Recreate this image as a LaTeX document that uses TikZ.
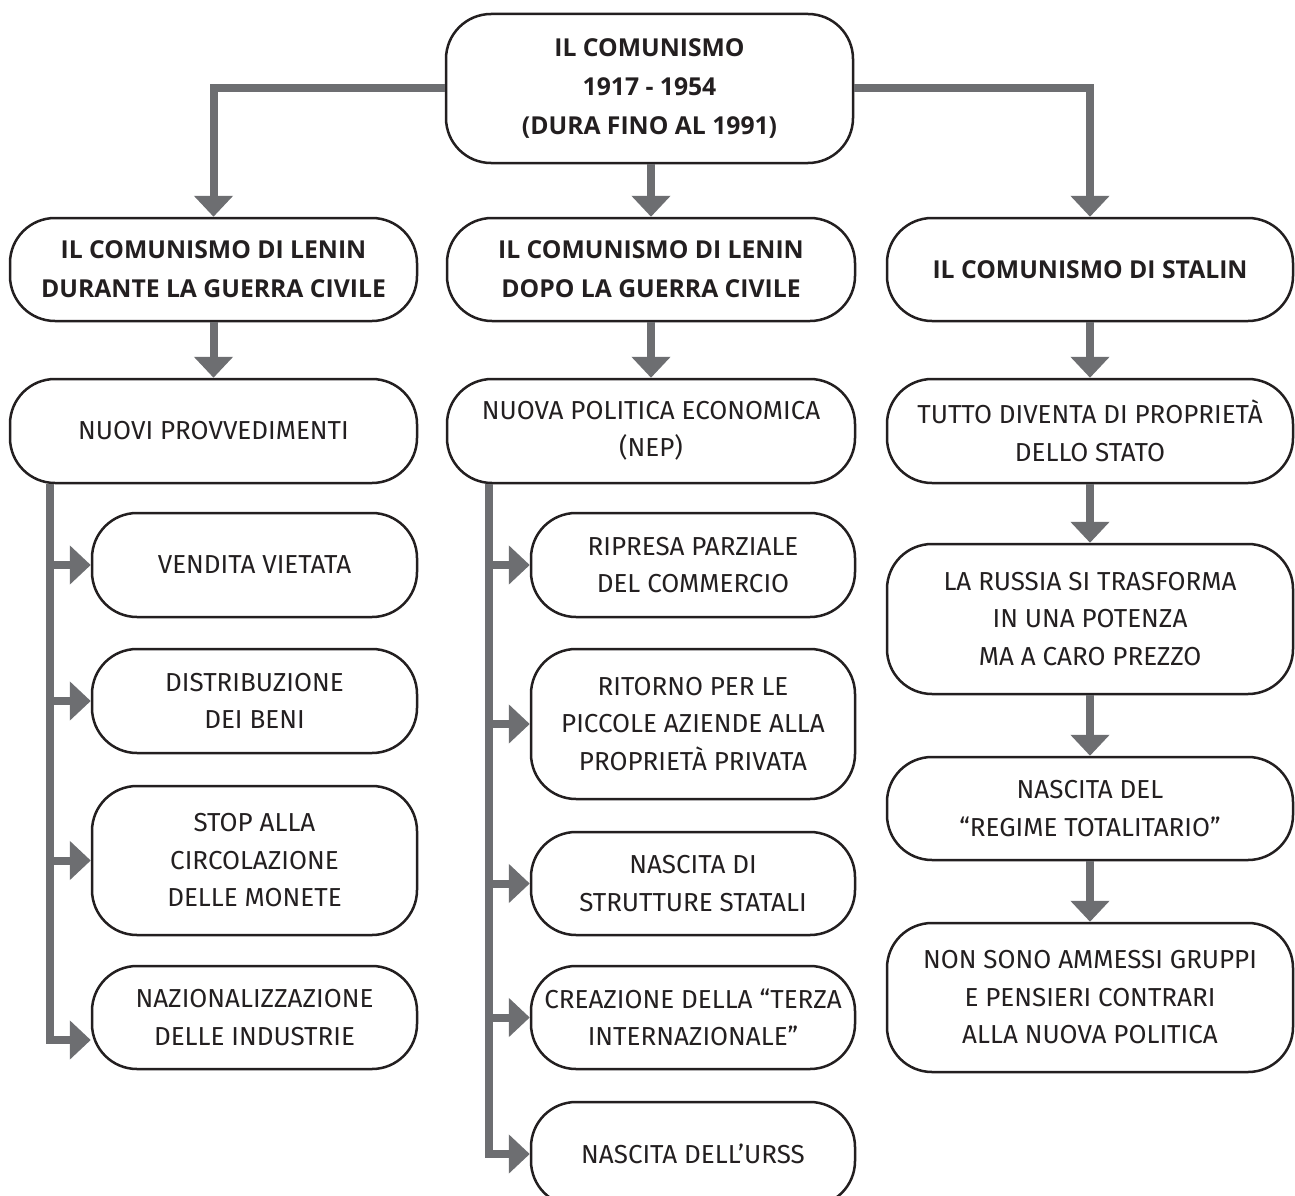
\documentclass[tikz,border=0pt]{standalone}
\usepackage{fontspec}
\setmainfont{Fira Sans}
\newfontfamily\hdfont{Open Sans}
\usetikzlibrary{arrows.meta,calc}
\definecolor{conngray}{HTML}{6D6E71}
\definecolor{inkc}{HTML}{231F20}
\tikzset{
  box/.style={draw=inkc, line width=2.5pt, rounded corners=45pt, inner sep=0pt,
    align=center, text=inkc, font=\fontsize{26}{37.5}\selectfont},
  headbox/.style={box, font=\hdfont\bfseries\fontsize{24.7}{39}\selectfont},
  conn/.style={draw=conngray, line width=8pt},
  arr/.style={conn, -{Triangle[width=38pt,length=21pt]}},
}
\begin{document}
\begin{tikzpicture}[x=1pt,y=-1pt]
\useasboundingbox[fill=white] (0,0) rectangle (1295,1196);
% top
\node[headbox, minimum width=407pt, minimum height=149pt] (top) at (649.5,88.5)
  {IL COMUNISMO\\1917 - 1954\\(DURA FINO AL 1991)};
% row 2
\node[headbox, minimum width=407pt, minimum height=103pt] (L2) at (213.5,269.5)
  {IL COMUNISMO DI LENIN\\DURANTE LA GUERRA CIVILE};
\node[headbox, minimum width=408pt, minimum height=103pt] (M2) at (651,269.5)
  {IL COMUNISMO DI LENIN\\DOPO LA GUERRA CIVILE};
\node[headbox, minimum width=406pt, minimum height=103pt] (R2) at (1090,269.5)
  {IL COMUNISMO DI STALIN};
% row 3
\node[box, minimum width=407pt, minimum height=104pt] (L3) at (213.5,431)
  {NUOVI PROVVEDIMENTI};
\node[box, minimum width=408pt, minimum height=104pt] (M3) at (651,431)
  {NUOVA POLITICA ECONOMICA\\(NEP)};
\node[box, minimum width=406pt, minimum height=104pt] (R3) at (1090,431)
  {TUTTO DIVENTA DI PROPRIETÀ\\DELLO STATO};
% left sub boxes
\node[box, minimum width=325pt, minimum height=104pt] (LS1) at (254.5,565)
  {VENDITA VIETATA};
\node[box, minimum width=325pt, minimum height=104pt] (LS2) at (254.5,701)
  {DISTRIBUZIONE\\DEI BENI};
\node[box, minimum width=325pt, minimum height=149pt] (LS3) at (254.5,860.5)
  {STOP ALLA\\CIRCOLAZIONE\\DELLE MONETE};
\node[box, minimum width=325pt, minimum height=103pt] (LS4) at (254.5,1017.5)
  {NAZIONALIZZAZIONE\\DELLE INDUSTRIE};
% middle sub boxes
\node[box, minimum width=324pt, minimum height=104pt] (MS1) at (693,565)
  {RIPRESA PARZIALE\\DEL COMMERCIO};
\node[box, minimum width=324pt, minimum height=150pt] (MS2) at (693,724)
  {RITORNO PER LE\\PICCOLE AZIENDE ALLA\\PROPRIETÀ PRIVATA};
\node[box, minimum width=324pt, minimum height=103pt] (MS3) at (693,883.5)
  {NASCITA DI\\STRUTTURE STATALI};
\node[box, minimum width=324pt, minimum height=103pt] (MS4) at (693,1017.5)
  {CREAZIONE DELLA “TERZA\\INTERNAZIONALE”};
\node[box, minimum width=324pt, minimum height=104pt] (MS5) at (693,1154)
  {NASCITA DELL’URSS};
% right column
\node[box, minimum width=406pt, minimum height=150pt] (R4) at (1090,619)
  {LA RUSSIA SI TRASFORMA\\IN UNA POTENZA\\MA A CARO PREZZO};
\node[box, minimum width=406pt, minimum height=103pt] (R5) at (1090,808.5)
  {NASCITA DEL\\“REGIME TOTALITARIO”};
\node[box, minimum width=406pt, minimum height=149pt] (R6) at (1090,997.5)
  {NON SONO AMMESSI GRUPPI\\E PENSIERI CONTRARI\\ALLA NUOVA POLITICA};
% connectors from top
\draw[arr] (top.west) -| (L2.north);
\draw[arr] (top.east) -| (R2.north);
\draw[arr] (M2.north |- top.south) -- (M2.north);
% row 2 -> row 3
\draw[arr] (L2.south) -- (L3.north);
\draw[arr] (M2.south) -- (M3.north);
\draw[arr] (R2.south) -- (R3.north);
% right chain
\draw[arr] (R3.south) -- (R4.north);
\draw[arr] (R4.south) -- (R5.north);
\draw[arr] (R5.south) -- (R6.north);
% left bus
\coordinate (lb) at ([xshift=41pt]L3.south west);
\coordinate (lend) at ([yshift=-22.5pt]LS4.west);
\draw[arr] (lb) |- (lend);
\draw[arr] (lb |- LS1.west) -- (LS1.west);
\draw[arr] (lb |- LS2.west) -- (LS2.west);
\draw[arr] (lb |- LS3.west) -- (LS3.west);
% middle bus
\coordinate (mb) at ([xshift=43pt]M3.south west);
\draw[arr] (mb) |- (MS5.west);
\draw[arr] (mb |- MS1.west) -- (MS1.west);
\draw[arr] (mb |- MS2.west) -- (MS2.west);
\draw[arr] (mb |- MS3.west) -- (MS3.west);
\draw[arr] (mb |- MS4.west) -- (MS4.west);
\end{tikzpicture}
\end{document}
